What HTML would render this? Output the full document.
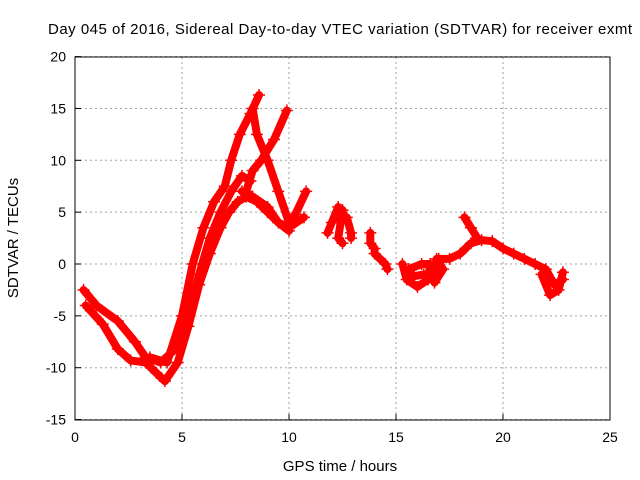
<!DOCTYPE html>
<html><head><meta charset="utf-8"><style>
body{margin:0;background:#fff}
svg{display:block;font-family:"Liberation Sans",sans-serif}
</style></head><body>
<svg id="chart" width="640" height="480">
<text x="340" y="34" font-size="15" text-anchor="middle" textLength="584">Day 045 of 2016, Sidereal Day-to-day VTEC variation (SDTVAR) for receiver exmt</text>
<text x="340" y="471" font-size="15" text-anchor="middle">GPS time / hours</text>
<text x="18" y="238" font-size="15" text-anchor="middle" transform="rotate(-90 18 238)">SDTVAR / TECUs</text>
<g id="grid"></g>
<g id="marks"></g>
<rect x="75" y="57" width="535" height="363" fill="none" stroke="#000" stroke-width="1"/>
</svg>
<script>
const xTicks=[0,5,10,15,20,25];
const yTicks=[-15,-10,-5,0,5,10,15,20];
const track1=[[0.4,-2.5],[1,-4],[2,-5.5],[2.8,-7.5],[3.3,-9],[4,-9.5],[4.8,-8],[5.3,-5],[5.8,-1],[6.3,2.5],[6.8,5],[7.3,7],[7.8,8.5],[8.2,8]];
const track2=[[0.5,-4],[1.3,-5.8],[2,-8.2],[2.6,-9.3],[3.3,-9.5],[3.8,-10.5],[4.2,-11.3],[4.8,-9.5],[5.3,-6],[5.8,-2],[6.3,1],[6.8,3.5],[7.2,5],[7.6,6],[8,6.5],[8.5,6],[9,5],[9.5,4],[10,3.5],[10.7,4.5]];
const track3=[[3.5,-9],[4.3,-9.5],[5,-5],[5.5,0],[6,3.5],[6.5,6],[7,7.5],[7.3,10],[7.7,12.5],[8.2,14.5],[8.6,16.3]];
const track4=[[8.3,15],[8.5,12.5],[9,10],[9.5,7],[10,4],[10.3,4.8],[10.8,7]];
const track5=[[9.9,14.8],[9.3,12],[8.7,10],[8.3,9],[8,7]];
const track6=[[7.8,7],[8.3,6.5],[9,5.5],[9.5,4],[10,3.2]];
const track7=[[11.8,3],[12,4],[12.3,5.5],[12.5,5.2],[12.3,2.5],[12.5,2]];
const track8=[[12.7,4.5],[12.9,3],[12.9,2.5]];
const track9=[[13.8,3],[13.8,2],[14,1.5],[14,1],[14.5,0],[14.6,-0.5]];
const track10=[[15.3,0],[15.5,-1.5],[16,-2.2],[16.5,-1.5],[16.6,0],[16.2,0],[15.6,-0.5],[15.8,-1.2],[16.3,-1]];
const track11=[[16.8,-0.5],[17,0.5],[17.5,0.5],[18,1],[18.5,2],[19,2.3],[19.5,2.2],[20,1.5],[20.5,1],[21,0.5],[21.5,0],[22,-0.5],[22.4,-2],[22.8,-1.5]];
const track12=[[18.2,4.5],[18.5,3.5],[18.8,2.5]];
const track13=[[21.8,-1],[22.2,-3],[22.6,-2.5],[22.8,-0.8]];
const track14=[[16.7,-1.5],[16.9,0.5],[17.2,-0.5],[16.8,-1.8]];
const tracks=[track1,track2,track3,track4,track5,track6,track7,track8,track9,track10,track11,track12,track13,track14];
const X=v=>75+v*21.4, Y=v=>264-v*10.37;
const NS='http://www.w3.org/2000/svg';
const grid=document.getElementById('grid'), marks=document.getElementById('marks'), svg=document.getElementById('chart');
function mk(tag,attrs,parent){const e=document.createElementNS(NS,tag);for(const k in attrs)e.setAttribute(k,attrs[k]);parent.appendChild(e);return e;}
xTicks.forEach(t=>{
  const l=mk('line',{x1:X(t),x2:X(t),y1:57,y2:420,stroke:'#a0a0a0','stroke-dasharray':'2,3'},grid);
  
  
  const tk=mk('line',{x1:X(t),x2:X(t),y1:420,y2:414,stroke:'#000'},svg);
  
  
  const tx=mk('text',{x:X(t),y:442,'font-size':14,'text-anchor':'middle'},svg);tx.textContent=t;
  
  
});
yTicks.forEach(t=>{
  const l=mk('line',{x1:75,x2:610,y1:Y(t),y2:Y(t),stroke:'#a0a0a0','stroke-dasharray':'2,3'},grid);
  
  
  const tk=mk('line',{x1:75,x2:81,y1:Y(t),y2:Y(t),stroke:'#000'},svg);
  
  
  const tx=mk('text',{x:66,y:Y(t)+5,'font-size':14,'text-anchor':'end'},svg);tx.textContent=t;
  
  
});
tracks.forEach(tr=>{
  const p=mk('polyline',{points:tr.map(d=>X(d[0])+','+Y(d[1])).join(' '),fill:'none',stroke:'#f00','stroke-width':8,'stroke-linejoin':'round','stroke-linecap':'round'},marks);
  
  
  tr.forEach(d=>{
    const m=mk('path',{d:`M${X(d[0])-6},${Y(d[1])}h12M${X(d[0])},${Y(d[1])-6}v12`,stroke:'#f00','stroke-width':1.5},marks);
    
    
  });
});
</script>
</body></html>
